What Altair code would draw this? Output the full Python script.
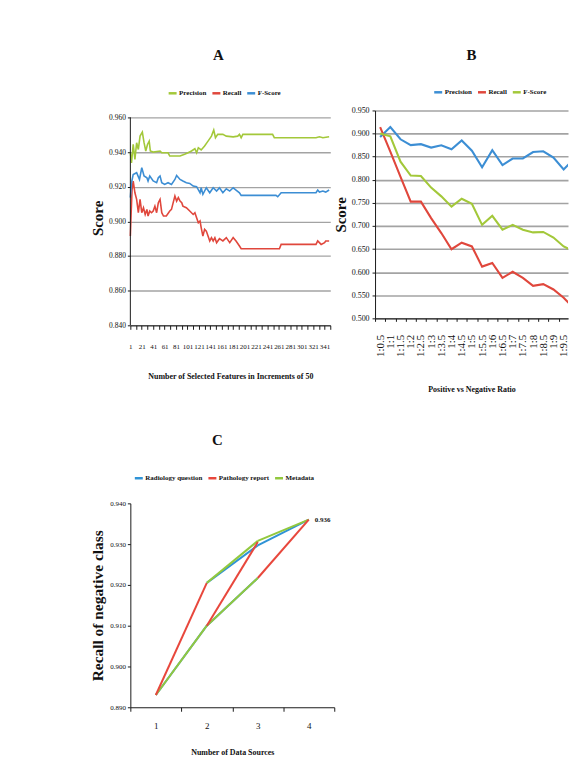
import json
import altair as alt
import pandas as pd

SERIF = "Liberation Serif"
AXIS_COLOR = "#1a1a1a"
GRID_COLOR = "#a3a3a3"

# ---------------- Panel A data ----------------
a_series = ["Precision", "Recall", "F-Score"]
a_colors = ["#a3c83a", "#e0473c", "#3c8ed4"]

a_prec_x = [1, 3, 6, 9, 12, 15, 18, 22, 25, 28, 31, 34, 36, 41, 53, 56, 67, 70, 88, 96,
            102, 108, 114, 117, 120, 125, 131, 137, 143, 147, 150, 154, 163, 169, 181, 189,
            192, 195, 198, 250, 253, 256, 326, 332, 338, 349]
a_prec = [0.9396, 0.9338, 0.9444, 0.9358, 0.9454, 0.9415, 0.9492, 0.9515, 0.9454, 0.9406,
          0.9444, 0.9463, 0.9406, 0.9400, 0.9406, 0.9396, 0.9396, 0.9377, 0.9377, 0.9387,
          0.9396, 0.9406, 0.9419, 0.9396, 0.9425, 0.9412, 0.9435, 0.9463, 0.9492, 0.9527,
          0.9483, 0.9502, 0.9502, 0.9492, 0.9488, 0.9492, 0.9502, 0.9483, 0.9502, 0.9502,
          0.9483, 0.9483, 0.9483, 0.9488, 0.9483, 0.9488]

a_rec_x = [1, 2, 4, 6, 9, 12, 15, 18, 21, 24, 27, 30, 32, 35, 38, 41, 44, 47, 50, 53,
           56, 59, 64, 70, 73, 76, 79, 82, 85, 88, 91, 93, 99, 105, 111, 114, 117, 120, 123, 125,
           128, 131, 134, 137, 140, 143, 146, 149, 152, 157, 163, 169, 175, 181, 186, 192, 195,
           262, 265, 326, 329, 335, 341, 343, 349]
a_rec = [0.8915, 0.9012, 0.9185, 0.9233, 0.9165, 0.9127, 0.9050, 0.9127, 0.9050, 0.9079,
         0.9040, 0.9069, 0.9031, 0.9060, 0.9050, 0.9060, 0.9088, 0.9050, 0.9108, 0.9127,
         0.9050, 0.9031, 0.9031, 0.9060, 0.9069, 0.9108, 0.9146, 0.9117, 0.9137, 0.9117,
         0.9108, 0.9088, 0.9079, 0.9060, 0.9040, 0.9050, 0.9021, 0.8992, 0.9002, 0.8964,
         0.8915, 0.8954, 0.8944, 0.8915, 0.8887, 0.8906, 0.8887, 0.8906, 0.8877, 0.8900,
         0.8887, 0.8906, 0.8877, 0.8906, 0.8887, 0.8858, 0.8842, 0.8842, 0.8867, 0.8867,
         0.8887, 0.8867, 0.8877, 0.8887, 0.8887]

a_f_x = [1, 3, 6, 12, 17, 21, 25, 30, 32, 35, 41, 47, 50, 53, 56, 61, 67, 73, 79, 82,
         88, 93, 99, 105, 111, 117, 123, 125, 128, 134, 140, 146, 152, 157, 163, 169, 175, 181,
         186, 192, 195, 256, 259, 265, 326, 329, 332, 338, 343, 349]
a_f = [0.9137, 0.9223, 0.9271, 0.9281, 0.9242, 0.9310, 0.9262, 0.9252, 0.9233, 0.9262,
       0.9233, 0.9223, 0.9252, 0.9262, 0.9223, 0.9213, 0.9223, 0.9213, 0.9242, 0.9265,
       0.9242, 0.9233, 0.9223, 0.9219, 0.9204, 0.9200, 0.9165, 0.9194, 0.9156, 0.9194,
       0.9165, 0.9194, 0.9175, 0.9194, 0.9165, 0.9188, 0.9175, 0.9194, 0.9181, 0.9165,
       0.9150, 0.9150, 0.9142, 0.9165, 0.9165, 0.9181, 0.9169, 0.9175, 0.9169, 0.9181]

a_tick_values = list(range(1, 352, 10))
a_y_ticks = [0.84, 0.86, 0.88, 0.90, 0.92, 0.94, 0.96]

# ---------------- Panel B data ----------------
b_series = ["Precision", "Recall", "F-Score"]
b_colors = ["#3c8ed4", "#e0473c", "#a3c83a"]
b_ratios = ["1:0.5", "1:1", "1:1.5", "1:2", "1:2.5", "1:3", "1:3.5", "1:4", "1:4.5", "1:5",
            "1:5.5", "1:6", "1:6.5", "1:7", "1:7.5", "1:8", "1:8.5", "1:9", "1:9.5", "1:10"]
b_prec = [0.8925, 0.914, 0.8876, 0.875, 0.877, 0.8697, 0.8746, 0.866, 0.885, 0.863,
          0.827, 0.864, 0.8316, 0.846, 0.846, 0.860, 0.8617, 0.848, 0.8223, 0.845]
b_rec = [0.914, 0.861, 0.806, 0.7526, 0.7526, 0.717, 0.6846, 0.6497, 0.6637, 0.6557,
         0.612, 0.620, 0.5876, 0.6008, 0.5876, 0.5704, 0.574, 0.5625, 0.5446, 0.522]
b_fs = [0.900, 0.894, 0.839, 0.809, 0.808, 0.783, 0.764, 0.7418, 0.759, 0.748,
        0.7024, 0.722, 0.692, 0.7024, 0.692, 0.686, 0.687, 0.675, 0.6557, 0.645]
b_y_ticks = [0.50, 0.55, 0.60, 0.65, 0.70, 0.75, 0.80, 0.85, 0.90, 0.95]

# ---------------- Panel C data ----------------
c_series = ["Radiology question", "Pathology report", "Metadata"]
c_colors = ["#2f93d6", "#e8473c", "#92c83e"]
c_labels = ["1", "2", "3", "4"]
# each segment: series, start (x, y), end (x, y)
c_seg_series = ["Radiology question", "Metadata", "Pathology report",
                "Radiology question", "Metadata", "Radiology question", "Metadata",
                "Pathology report", "Radiology question", "Metadata", "Pathology report"]
c_seg_x0 = [1, 1, 1, 2, 2, 2, 2, 2, 3, 3, 3]
c_seg_y0 = [0.893, 0.893, 0.893, 0.9205, 0.9205, 0.910, 0.910, 0.910, 0.9297, 0.9308, 0.9217]
c_seg_x1 = [2, 2, 2, 3, 3, 3, 3, 3, 4, 4, 4]
c_seg_y1 = [0.910, 0.910, 0.9205, 0.9297, 0.9308, 0.9217, 0.9217, 0.9305, 0.936, 0.936, 0.936]
c_y_ticks = [0.890, 0.895, 0.900, 0.905, 0.910, 0.915, 0.920, 0.925, 0.930, 0.935, 0.940]
c_note_x = [4]
c_note_y = [0.936]
c_note_text = ["0.936"]

# ---------------- Build tables ----------------
a_rows = []
for name, xs, ys in [("Precision", a_prec_x, a_prec), ("Recall", a_rec_x, a_rec), ("F-Score", a_f_x, a_f)]:
    for x, y in zip(xs, ys):
        a_rows.append({"series": name, "x": x, "y": y})
a_df = pd.DataFrame(a_rows)
a_axis_df = pd.DataFrame({"y0": [min(a_y_ticks)], "y1": [max(a_y_ticks)]})

b_rows = []
for name, ys in [("Precision", b_prec), ("Recall", b_rec), ("F-Score", b_fs)]:
    for i, y in enumerate(ys):
        b_rows.append({"series": name, "i": i, "ratio": b_ratios[i], "y": y})
b_df = pd.DataFrame(b_rows)

c_rows = []
for k, (s, x0, y0, x1, y1) in enumerate(zip(c_seg_series, c_seg_x0, c_seg_y0, c_seg_x1, c_seg_y1)):
    c_rows.append({"seg": k, "series": s, "x": x0, "y": y0})
    c_rows.append({"seg": k, "series": s, "x": x1, "y": y1})
c_df = pd.DataFrame(c_rows)
c_note_df = pd.DataFrame({"x": c_note_x, "y": c_note_y, "t": c_note_text})

common_axis = dict(labelFont=SERIF, labelColor="#111", domainColor=AXIS_COLOR, tickColor=AXIS_COLOR,
                   titleFont=SERIF, titleFontWeight="bold", titleColor="#111")


def legend(x, y, pad):
    return alt.Legend(orient="none", legendX=x, legendY=y, direction="horizontal", columns=3,
                      title=None, symbolType="stroke", symbolStrokeWidth=2.5, symbolSize=64,
                      labelFont=SERIF, labelFontSize=7, labelFontWeight="bold", labelColor="#111",
                      columnPadding=pad, labelOffset=1, padding=0)


def panel_title(text, offset, dx):
    return alt.TitleParams(text, font=SERIF, fontSize=15, fontWeight="bold", anchor="middle",
                           frame="group", offset=offset, dx=dx, color="#111")


# ---------------- Panel A ----------------
A_W, A_H = 201, 216
a_y_scale = alt.Scale(domain=[0.84, 0.96402], nice=False, zero=False)
a_y_axis = alt.Axis(values=a_y_ticks, format=".3f", grid=True, gridColor=GRID_COLOR, gridWidth=1.3,
                    domain=False, tickSize=3, labelFontSize=7.5, labelPadding=2, title="Score",
                    titleFontSize=15, titlePadding=3, **common_axis)
a_x_scale = alt.Scale(domain=[1, 351], nice=False, zero=False)
a_x_axis = alt.Axis(values=a_tick_values, labelExpr="(datum.value - 1) % 20 == 0 ? datum.label : ''",
                    format="d", grid=False, tickSize=4, labelFontSize=7, labelPadding=13,
                    labelOverlap=False, labelFlush=False,
                    title="Number of Selected Features in Increments of 50", titleFontSize=8,
                    titlePadding=23, **common_axis)
a_lines = alt.Chart(a_df).mark_line(strokeWidth=1.6).encode(
    x=alt.X("x:Q", scale=a_x_scale, axis=a_x_axis),
    y=alt.Y("y:Q", scale=a_y_scale, axis=a_y_axis),
    color=alt.Color("series:N", scale=alt.Scale(domain=a_series, range=a_colors),
                    legend=legend(37, -23, 0)),
)
a_axis_line = alt.Chart(a_axis_df).mark_rule(color=AXIS_COLOR, strokeWidth=1).encode(
    x=alt.value(0),
    y=alt.Y("y0:Q", scale=a_y_scale, axis=a_y_axis),
    y2="y1:Q",
)
chart_a = alt.layer(a_lines, a_axis_line).properties(
    width=A_W, height=A_H, title=panel_title("A", 25, -12))

# ---------------- Panel B ----------------
B_W, B_H = 194, 209
b_step_px = 10.25
b_lo = -0.5
b_hi = b_lo + B_W / b_step_px
b_bounds = [i - 0.5 for i in range(0, 20)]
b_label_expr = "datum.value + 0.5 <= 18 ? " + json.dumps(b_ratios) + "[datum.value + 0.5] : ''"
chart_b = alt.Chart(b_df).mark_line(strokeWidth=2.1, clip=True).encode(
    x=alt.X("i:Q", scale=alt.Scale(domain=[b_lo, b_hi], nice=False, zero=False),
            axis=alt.Axis(values=b_bounds, labelExpr=b_label_expr, labelOffset=b_step_px / 2, labelAngle=270,
                          labelOverlap=False, labelFlush=False,
                          grid=False, tickSize=3, labelFontSize=11, labelPadding=13,
                          title="Positive vs Negative Ratio", titleFontSize=8, titlePadding=29,
                          **common_axis)),
    y=alt.Y("y:Q", scale=alt.Scale(domain=[0.5, 0.95], nice=False, zero=False),
            axis=alt.Axis(values=b_y_ticks, format=".3f", grid=True, gridColor=GRID_COLOR, gridWidth=1.6,
                          tickSize=3, labelFontSize=8, labelPadding=3, title="Score", titleFontSize=15,
                          titlePadding=3, **common_axis)),
    color=alt.Color("series:N", scale=alt.Scale(domain=b_series, range=b_colors),
                    legend=legend(58, -24, 0)),
).properties(width=B_W, height=B_H, title=panel_title("B", 24, 0))

top = alt.hconcat(chart_a, chart_b, spacing=0).resolve_scale(color="independent")

# ---------------- Panel C ----------------
C_W, C_H = 205, 205
c_step = C_W / 4
c_bounds = [0.5, 1.5, 2.5, 3.5, 4.5]
c_label_expr = "datum.value < 4 ? " + json.dumps(c_labels) + "[datum.value - 0.5] : ''"
c_x = alt.X("x:Q", scale=alt.Scale(domain=[0.5, 4.5], nice=False, zero=False),
            axis=alt.Axis(values=c_bounds, labelExpr=c_label_expr, labelOffset=c_step / 2, grid=False,
                          labelOverlap=False, labelFlush=False,
                          tickSize=4, labelFontSize=9, labelPadding=10, title="Number of Data Sources",
                          titleFontSize=8, titlePadding=18, **common_axis))
c_y = alt.Y("y:Q", scale=alt.Scale(domain=[0.89, 0.94], nice=False, zero=False),
            axis=alt.Axis(values=c_y_ticks, format=".3f", grid=False, tickSize=3, labelFontSize=7,
                          labelPadding=2, title="Recall of negative class", titleFontSize=15.5,
                          titlePadding=4, **common_axis))
c_lines = alt.Chart(c_df).mark_line(strokeWidth=2).encode(
    x=c_x, y=c_y,
    color=alt.Color("series:N", scale=alt.Scale(domain=c_series, range=c_colors),
                    legend=legend(3, -31, 0)),
    detail="seg:N",
    order=alt.Order("x:Q"),
)
c_note = alt.Chart(c_note_df).mark_text(align="left", dx=6, font=SERIF, fontSize=7, fontWeight="bold",
                                        color="#111").encode(x="x:Q", y="y:Q", text="t:N")
chart_c = alt.layer(c_lines, c_note).properties(
    width=C_W, height=C_H, title=panel_title("C", 25, -15))

chart = alt.vconcat(top, chart_c, spacing=39).resolve_scale(color="independent").properties(
    padding={"left": 83, "top": 38, "right": 0, "bottom": 0},
    background="white",
).configure_view(stroke=None).configure_axis(domainWidth=1, tickWidth=1)

chart.save("out.html", embed_options={"renderer": "svg", "actions": False})
